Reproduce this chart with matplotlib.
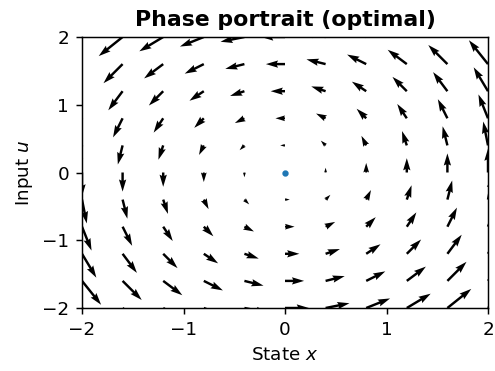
import numpy as np
import matplotlib
matplotlib.use("Agg")
import matplotlib.pyplot as plt

# grid of states / inputs
x_vals = [-2.0, -1.6, -1.2, -0.8, -0.4, 0.0, 0.4, 0.8, 1.2, 1.6, 2.0]
u_vals = [-2.0, -1.6, -1.2, -0.8, -0.4, 0.0, 0.4, 0.8, 1.2, 1.6, 2.0]

# equilibrium point
eq_x = [0.0]
eq_u = [0.0]

X, U = np.meshgrid(x_vals, u_vals)
# vector field of the optimal system: x' = -u, u' = x
dX = -U
dU = X

fig = plt.figure(figsize=(3.75, 371 / 132), dpi=132)
ax = fig.add_axes([82 / 495, 1 - 308 / 371, 406 / 495, 271 / 371])

ax.quiver(X, U, dX, dU, scale=34, scale_units='width', width=0.006)
ax.scatter(eq_x, eq_u, s=6, color='C0', zorder=3)

ax.set_xlim(-2, 2)
ax.set_ylim(-2, 2)
ax.set_xticks([-2, -1, 0, 1, 2])
ax.set_yticks([-2, -1, 0, 1, 2])
ax.set_xlabel('State $x$')
ax.set_ylabel('Input $u$')
ax.set_title('Phase portrait (optimal)', fontweight='bold')

fig.savefig('out.png', dpi=132)
